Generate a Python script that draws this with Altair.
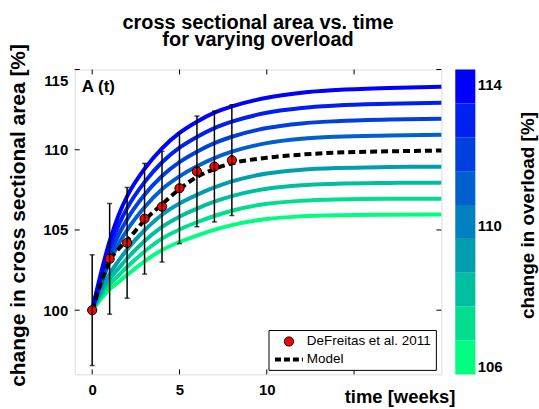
import altair as alt
import pandas as pd

# ---------------- data ----------------
T = [0, 0.5, 1, 1.5, 2, 3, 4, 5, 6, 7, 8, 10, 12, 14, 17, 20]

OVERLOAD = [106, 107, 108, 109, 111, 112, 113, 114]
A106 = [100, 100.70, 101.30, 101.75, 102.20, 103.05, 103.75, 104.25, 104.65, 105.00, 105.30, 105.68, 105.85, 105.92, 105.95, 105.96]
A107 = [100, 100.86, 101.60, 102.16, 102.69, 103.66, 104.46, 105.03, 105.48, 105.87, 106.20, 106.63, 106.82, 106.90, 106.94, 106.95]
A108 = [100, 101.03, 101.92, 102.59, 103.22, 104.31, 105.19, 105.83, 106.33, 106.76, 107.11, 107.57, 107.79, 107.88, 107.93, 107.95]
A109 = [100, 101.21, 102.26, 103.06, 103.78, 104.98, 105.95, 106.65, 107.19, 107.65, 108.03, 108.52, 108.75, 108.86, 108.92, 108.94]
A111 = [100, 101.61, 103.01, 104.10, 105.00, 106.42, 107.54, 108.34, 108.97, 109.48, 109.88, 110.41, 110.68, 110.81, 110.89, 110.94]
A112 = [100, 101.83, 103.41, 104.67, 105.66, 107.19, 108.36, 109.23, 109.88, 110.41, 110.81, 111.35, 111.64, 111.78, 111.88, 111.93]
A113 = [100, 102.06, 103.85, 105.26, 106.36, 107.98, 109.22, 110.13, 110.80, 111.35, 111.75, 112.30, 112.60, 112.75, 112.86, 112.93]
A114 = [100, 102.30, 104.30, 105.89, 107.10, 108.81, 110.09, 111.05, 111.75, 112.31, 112.70, 113.24, 113.55, 113.72, 113.85, 113.93]
CURVES = [A106, A107, A108, A109, A111, A112, A113, A114]
LINE_COLORS = ["#00FF80", "#00DF8F", "#00BF9F", "#009FAF", "#0060CF", "#0040DF", "#0020EF", "#0000FF"]

MODEL = [100, 101.7, 103.1, 103.8, 104.35, 105.6, 106.6, 107.55, 108.3, 108.8, 109.15, 109.5, 109.7, 109.82, 109.9, 109.95]

DATA_T = [0, 1, 2, 3, 4, 5, 6, 7, 8]
DATA_MEAN = [100.0, 103.2, 104.2, 105.7, 106.45, 107.6, 108.65, 108.95, 109.35]
DATA_SD = [3.45, 3.45, 3.45, 3.45, 3.45, 3.45, 3.45, 3.45, 3.45]

BAND_EDGES = [105.78, 106.74, 107.70, 108.66, 109.62, 110.58, 111.54, 112.50, 113.46, 114.42]
BAND_COLORS = ["#00FF80", "#00DF8F", "#00BF9F", "#009FAF", "#0080BF", "#0060CF", "#0040DF", "#0020EF", "#0000FF"]

X_TICKS = [0, 5, 10, 15]
X_LABELS = [0, 5, 10]
Y_TICKS = [100, 105, 110, 115]
CB_TICKS = [106, 110, 114]
LEGEND_NAMES = ["DeFreitas et al. 2011", "Model"]
TITLE_LINES = ["cross sectional area vs. time", "for varying overload"]

FONT = "Liberation Sans"
W, H = 368, 306

# ---------------- tables ----------------
curve_rows = []
for i, (ov, vals, col) in enumerate(zip(OVERLOAD, CURVES, LINE_COLORS)):
    for t, a in zip(T, vals):
        curve_rows.append({"t": t, "A": a, "overload": ov, "hex": col, "order": i})
curves_df = pd.DataFrame(curve_rows)
model_df = pd.DataFrame({"t": T, "A": MODEL})
data_df = pd.DataFrame({"t": DATA_T, "A": DATA_MEAN, "sd": DATA_SD})
data_df["lo"] = data_df["A"] - data_df["sd"]
data_df["hi"] = data_df["A"] + data_df["sd"]
xt_df = pd.DataFrame({"v": X_TICKS})
yt_df = pd.DataFrame({"v": Y_TICKS})
one_df = pd.DataFrame({"k": [0]})
band_df = pd.DataFrame({"lo": BAND_EDGES[:-1], "hi": BAND_EDGES[1:], "hex": BAND_COLORS})

xscale = alt.Scale(domain=[-1, 20], nice=False, zero=False)
yscale = alt.Scale(domain=[96, 115], nice=False, zero=False)

xaxis = alt.Axis(values=X_LABELS, tickSize=0, domain=False, grid=False,
                 labelFont=FONT, labelFontSize=15, labelFontWeight="bold", labelPadding=8,
                 title="time [weeks]", titleFont=FONT, titleFontSize=18.5, titleFontWeight="bold",
                 titleX=326, titleY=22, titleAlign="center", titleBaseline="middle")
yaxis = alt.Axis(values=Y_TICKS, tickSize=0, domain=False, grid=False,
                 labelFont=FONT, labelFontSize=15, labelFontWeight="bold", labelPadding=7,
                 labelFlush=True, labelFlushOffset=-4,
                 title="change in cross sectional area [%]", titleFont=FONT, titleFontSize=21,
                 titleFontWeight="bold", titleX=-56, titleY=146, titleAngle=270,
                 titleAlign="center", titleBaseline="middle")

base_x = alt.X("t:Q", scale=xscale, axis=xaxis)
base_y = alt.Y("A:Q", scale=yscale, axis=yaxis)

curves = alt.Chart(curves_df).mark_line(strokeWidth=4, interpolate="monotone").encode(
    x=base_x, y=base_y,
    color=alt.Color("hex:N", scale=None),
    detail="overload:N",
    order="order:Q",
)
model = alt.Chart(model_df).mark_line(strokeWidth=4, strokeDash=[7, 4], color="black",
                                     interpolate="monotone").encode(x="t:Q", y="A:Q")
points = alt.Chart(data_df).mark_point(filled=True, fill="#ff0000", stroke="black",
                                      strokeWidth=1, size=85, opacity=1).encode(x="t:Q", y="A:Q")
bars = alt.Chart(data_df).mark_rule(color="black", strokeWidth=1.5).encode(x="t:Q", y="lo:Q", y2="hi:Q")
cap_lo = alt.Chart(data_df).mark_tick(color="black", orient="horizontal", size=5, thickness=1.5).encode(
    x="t:Q", y="lo:Q")
cap_hi = alt.Chart(data_df).mark_tick(color="black", orient="horizontal", size=5, thickness=1.5).encode(
    x="t:Q", y="hi:Q")

tick_b = alt.Chart(xt_df).mark_rule(color="black", strokeWidth=1).encode(
    x="v:Q", y=alt.value(H), y2=alt.value(H - 5))
tick_t = alt.Chart(xt_df).mark_rule(color="black", strokeWidth=1).encode(
    x="v:Q", y=alt.value(0), y2=alt.value(5))
tick_l = alt.Chart(yt_df).mark_rule(color="black", strokeWidth=1).encode(
    y="v:Q", x=alt.value(0), x2=alt.value(5))
tick_r = alt.Chart(yt_df).mark_rule(color="black", strokeWidth=1).encode(
    y="v:Q", x=alt.value(W), x2=alt.value(W - 5))

# panel label
panel = alt.Chart(one_df).mark_text(text="A (t)", font=FONT, fontSize=17, fontWeight="bold",
                                    align="left", baseline="middle", color="black").encode(
    x=alt.value(7), y=alt.value(18))

# legend box
leg_box = alt.Chart(one_df).mark_rect(fill="white", stroke="black", strokeWidth=1).encode(
    x=alt.value(195), x2=alt.value(363), y=alt.value(262), y2=alt.value(302))
leg_pt = alt.Chart(one_df).mark_point(filled=True, fill="#ff0000", stroke="black", strokeWidth=1,
                                      size=85, opacity=1).encode(x=alt.value(215), y=alt.value(273))
leg_line = alt.Chart(one_df).mark_rule(color="black", strokeWidth=4, strokeDash=[6, 3]).encode(
    x=alt.value(201), x2=alt.value(229), y=alt.value(291))
leg_t1 = alt.Chart(one_df).mark_text(text=LEGEND_NAMES[0], font=FONT, fontSize=13.5, align="left",
                                     baseline="middle", color="black").encode(
    x=alt.value(233), y=alt.value(273))
leg_t2 = alt.Chart(one_df).mark_text(text=LEGEND_NAMES[1], font=FONT, fontSize=13.5, align="left",
                                     baseline="middle", color="black").encode(
    x=alt.value(233), y=alt.value(291))

main = alt.layer(curves, model, points, bars, cap_lo, cap_hi,
                 tick_b, tick_t, tick_l, tick_r, panel,
                 leg_box, leg_pt, leg_line, leg_t1, leg_t2).properties(
    width=W, height=H,
    title=alt.TitleParams(TITLE_LINES, font=FONT, fontSize=20, fontWeight="bold",
                          anchor="middle", offset=-7, lineHeight=18, frame="group"),
)

colorbar = alt.Chart(band_df).mark_rect().encode(
    x=alt.value(0), x2=alt.value(20),
    y=alt.Y("lo:Q", scale=alt.Scale(domain=[BAND_EDGES[0], BAND_EDGES[-1]], nice=False, zero=False),
            axis=alt.Axis(orient="right", values=CB_TICKS, tickSize=0, domain=False, grid=False,
                          labelFont=FONT, labelFontSize=15, labelFontWeight="bold", labelPadding=2,
                          title="change in overload [%]", titleFont=FONT, titleFontSize=19,
                          titleFontWeight="bold", titleAngle=270, titleX=52, titleY=146,
                          titleAlign="center", titleBaseline="middle")),
    y2="hi:Q",
    color=alt.Color("hex:N", scale=None),
).properties(width=20, height=H)

chart = alt.hconcat(main, colorbar, spacing=14, bounds="flush").properties(
    padding={"left": 7, "top": 11, "right": 1, "bottom": 5},
).configure_view(stroke="black", strokeWidth=1.5).configure(background="white")

chart.save("out.html", embed_options={"renderer": "svg", "actions": False})
